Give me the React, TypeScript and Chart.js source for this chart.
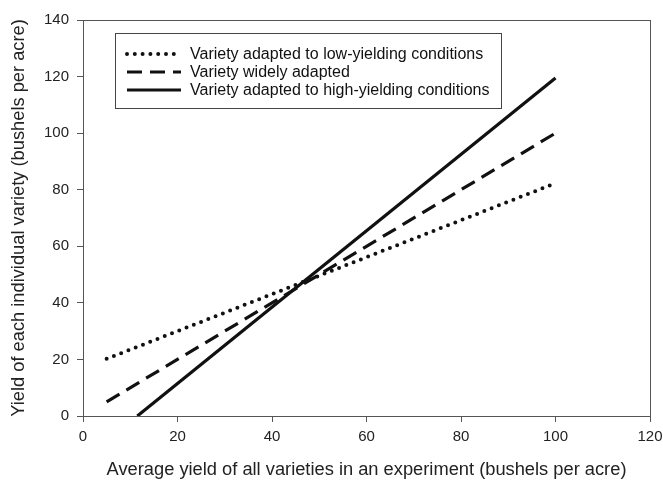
import React, { useEffect, useRef } from "react";
import { Chart, registerables } from "chart.js";

Chart.register(...registerables);

const xTitle = "Average yield of all varieties in an experiment (bushels per acre)";
const yTitle = "Yield of each individual variety (bushels per acre)";
const seriesLabels = [
  "Variety adapted to low-yielding conditions",
  "Variety widely adapted",
  "Variety adapted to high-yielding conditions",
];
const lowX = [5, 100];
const lowY = [20.2, 82.3];
const wideX = [5, 100];
const wideY = [5, 100];
const highX = [11.5, 100];
const highY = [0, 119.5];
const dashes = [[0, 7.8], [15, 8], []];
const widths = [4, 3.2, 3.2];
const FONT = "'Liberation Sans', Arial, sans-serif";

const legendPlugin = {
  id: "boxLegend",
  afterDraw(chart: any) {
    const { ctx, chartArea } = chart;
    ctx.save();
    ctx.strokeStyle = "#555";
    ctx.lineWidth = 1;
    ctx.strokeRect(chartArea.left + 0.5, chartArea.top + 0.5, chartArea.right - chartArea.left, chartArea.bottom - chartArea.top);
    const bx = chartArea.left + 32;
    const by = chartArea.top + 13;
    ctx.strokeStyle = "#444";
    ctx.strokeRect(bx + 0.5, by + 0.5, 386, 75);
    chart.data.datasets.forEach((ds: any, i: number) => {
      const y = by + 21 + i * 18;
      ctx.beginPath();
      ctx.strokeStyle = "#111";
      ctx.lineWidth = ds.borderWidth;
      ctx.lineCap = i === 0 ? "round" : "butt";
      ctx.setLineDash(ds.borderDash || []);
      ctx.moveTo(bx + 12, y);
      ctx.lineTo(bx + 66, y);
      ctx.stroke();
      ctx.setLineDash([]);
      ctx.fillStyle = "#111";
      ctx.font = `16px ${FONT}`;
      ctx.textBaseline = "middle";
      ctx.textAlign = "left";
      ctx.fillText(ds.label, bx + 75, y + 1);
    });
    ctx.restore();
  },
};

export default function App() {
  const ref = useRef<HTMLCanvasElement>(null);
  useEffect(() => {
    document.body.style.margin = "0";
    const mk = (xs: number[], ys: number[]) => xs.map((x, i) => ({ x, y: ys[i] }));
    const chart = new Chart(ref.current!, {
      type: "scatter",
      data: {
        datasets: [
          { label: seriesLabels[0], data: mk(lowX, lowY), borderDash: dashes[0], borderCapStyle: "round", borderWidth: widths[0] },
          { label: seriesLabels[1], data: mk(wideX, wideY), borderDash: dashes[1], borderCapStyle: "butt", borderWidth: widths[1] },
          { label: seriesLabels[2], data: mk(highX, highY), borderDash: dashes[2], borderCapStyle: "butt", borderWidth: widths[2] },
        ].map((d) => ({
          ...d,
          showLine: true,
          borderColor: "#111",
          pointRadius: 0,
          fill: false,
        })) as any,
      },
      options: {
        animation: false,
        responsive: false,
        layout: { padding: { left: 0, top: 20, right: 13, bottom: 0 } },
        plugins: { legend: { display: false }, tooltip: { enabled: false } },
        scales: {
          x: {
            type: "linear",
            min: 0,
            max: 120,
            ticks: { stepSize: 20, color: "#222", font: { size: 15, family: FONT }, padding: 6 },
            grid: { drawOnChartArea: false, drawTicks: true, tickLength: 6, color: "#555" },
            border: { color: "#555" },
            title: { display: true, text: xTitle, color: "#222", font: { size: 18.3, family: FONT }, padding: { top: 17, bottom: 1 } },
            afterFit: (s: any) => { s.height = 66; s.paddingRight = 0; s.paddingLeft = 0; },
          },
          y: {
            min: 0,
            max: 140,
            ticks: { stepSize: 20, color: "#222", font: { size: 15, family: FONT }, padding: 8 },
            grid: { drawOnChartArea: false, drawTicks: true, tickLength: 6, color: "#555" },
            border: { color: "#555" },
            title: { display: true, text: yTitle, color: "#222", font: { size: 18.3, family: FONT }, padding: { top: 8, bottom: 0 } },
            afterFit: (s: any) => { s.width = 83; s.paddingTop = 0; s.paddingBottom = 0; },
          },
        },
      },
      plugins: [legendPlugin],
    });
    return () => chart.destroy();
  }, []);
  return <canvas ref={ref} width={663} height={482} style={{ display: "block" }} />;
}
